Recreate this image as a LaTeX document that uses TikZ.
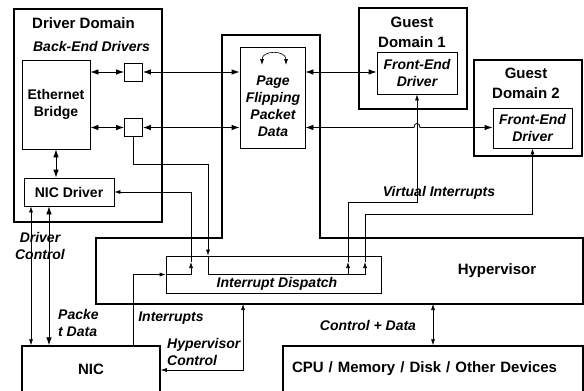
\documentclass[tikz,border=0pt]{standalone}
\usepackage{fontspec}
\setmainfont{Liberation Sans}
\usetikzlibrary{arrows.meta,calc}

\tikzset{
  outerbox/.style={draw, line width=1.5pt, inner sep=0pt},
  box/.style={draw, line width=0.8pt, inner sep=0pt, align=center, font=\fontsize{14}{17}\selectfont\bfseries},
  ibox/.style={box, font=\fontsize{14}{17}\selectfont\bfseries\itshape},
  ttl/.style={inner sep=0pt, align=center, font=\fontsize{15}{20}\selectfont\bfseries},
  lbl/.style={inner sep=0pt, align=center, font=\fontsize{14}{17}\selectfont\bfseries\itshape},
  dlink/.style={line width=0.8pt, {Latex[length=8pt,width=5.5pt]}-{Latex[length=8pt,width=5.5pt]}},
  thinlink/.style={line width=0.6pt, {Latex[length=6pt,width=4pt]}-{Latex[length=6pt,width=4pt]}},
  irq/.style={line width=0.6pt, -{Latex[length=6pt,width=4pt]}},
  wire/.style={line width=0.6pt},
}

\begin{document}
\begin{tikzpicture}[x=1pt,y=-1pt]
      \useasboundingbox (0,0) rectangle (584,391);
      % driver domain
      \node[outerbox, minimum width=148, minimum height=213] (dd) at (88,115.5) {};
      \node[ttl] (ddt) at (83.5,23) {Driver Domain};
      \node[lbl] (bed) at (91.5,46) {Back-End Drivers};
      \node[box, minimum width=68, minimum height=89] (bridge) at (56,104.5) {Ethernet\\Bridge};
      \node[box, minimum size=18] (sba) at (133.5,72) {};
      \node[box, minimum size=18] (sbb) at (133.5,127.5) {};
      \node[box, minimum width=90, minimum height=28] (nicdrv) at (69,192) {NIC Driver};
      % hypervisor
      \draw[line width=1.5pt] (96,238) -- (222,238) -- (222,35) -- (320,35) -- (320,238)
        -- (583,238) -- (583,304) -- (96,304) coordinate (hvb) -- cycle;
      \node[ttl] (hv) at (497,271) {Hypervisor};
      \node[box, minimum width=65, minimum height=101] (pf) at (272.5,97.5) {};
      \node[lbl] (pft) at (273,106) {Page\\Flipping\\Packet\\Data};
      \draw[thinlink] (262,65) .. controls (262,50) and (286,50) .. (286,65);
      \node[box, minimum width=215, minimum height=37] (disp) at (273.5,274.5) {};
      \node[lbl] (dispt) at (277,284) {Interrupt Dispatch};
      % guests
      \node[outerbox, minimum width=108, minimum height=101] (gd1) at (413,58.5) {};
      \node[ttl] (gd1t) at (412,32.5) {Guest\\Domain 1};
      \node[ibox, minimum width=80, minimum height=42] (fed1) at (417,73) {Front-End\\Driver};
      \node[outerbox, minimum width=108, minimum height=96] (gd2) at (528,108) {};
      \node[ttl] (gd2t) at (526,83) {Guest\\Domain 2};
      \node[ibox, minimum width=79, minimum height=40] (fed2) at (532.5,128) {Front-End\\Driver};
      % devices
      \node[outerbox, ttl, minimum width=138, minimum height=46] (nic) at (91,369) {NIC};
      \node[outerbox, ttl, align=left, text width=282, minimum width=300, minimum height=46] (cpu) at (433,369) {CPU / Memory / Disk / Other Devices};

      \draw[dlink] (bridge.east |- sba) -- (sba.west);
      \draw[dlink] (bridge.east |- sbb) -- (sbb.west);
      \draw[dlink] (sba.east) -- (pf.west |- sba);
      \draw[dlink] (sbb.east) -- (pf.west |- sbb);
      \draw[dlink] (pf.east |- sba) -- (fed1.west |- sba);
      \draw[dlink] (pf.east |- sbb) -- (414,127.5) .. controls (414,122) and (420,122) .. (420,127.5) -- (fed2.west |- sbb);
      \draw[dlink] (bridge.south) -- (bridge.south |- nicdrv.north);
      \draw[thinlink] (nicdrv.south -| 31,0) -- (nic.north -| 31,0);
      \draw[dlink] (nicdrv.south -| 49,0) -- (nic.north -| 49,0);

      \draw[irq] (nic.north -| 133,0) |- (disp.west);
      \draw[wire] (disp.west) -- (191,274.5);
      \draw[irq] (191,274.5) -- (191,262);
      \draw[irq] (191,262) |- (nicdrv.east);
      \draw[irq] (sbb.south) |- (208,164) -- (208,164 |- disp.north);
      \draw[wire] (208,164 |- disp.north) |- (365,274.5);
      \draw[irq] (348,274.5) -- (348,262);
      \draw[irq] (365,274.5) -- (365,262);
      \draw[irq] (348,262) |- (fed1.south |- 0,202) -- (fed1.south);
      \draw[irq] (365,262) |- (fed2.south |- 0,214) -- (fed2.south);
      \draw[thinlink] (nic.east |- 0,370) -| (243,0 |- hvb);
      \draw[thinlink] (cpu.north |- hvb) -- (cpu.north);

      \node[lbl] (vit) at (439,193) {Virtual Interrupts};
      \node[lbl] (drvctl) at (40,246) {Driver\\Control};
      \node[lbl, align=left, anchor=west] (pkt) at (58,322.5) {Packe\\t Data};
      \node[lbl] (irqt) at (171,318) {Interrupts};
      \node[lbl, align=left, anchor=west] (hvct) at (167,352) {Hypervisor\\Control};
      \node[lbl] (cdt) at (368,325) {Control + Data};
\end{tikzpicture}
\end{document}
